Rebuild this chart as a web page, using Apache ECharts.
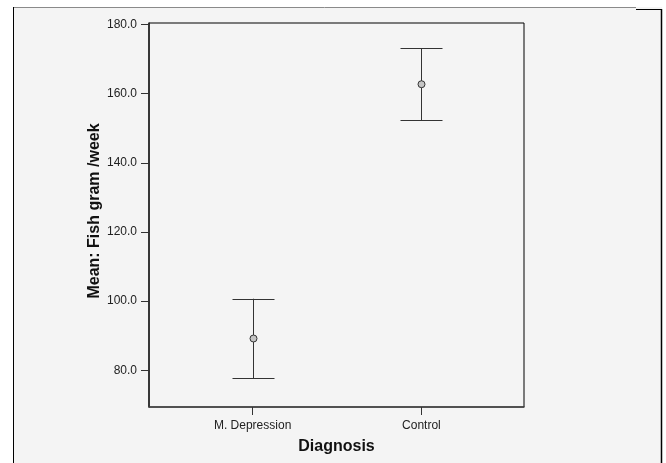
<!DOCTYPE html>
<html>
<head>
<meta charset="utf-8">
<script src="https://cdn.jsdelivr.net/npm/echarts@6/dist/echarts.min.js"></script>
<style>html,body{margin:0;padding:0;background:#fff;}#c{width:666px;height:463px;}</style>
</head>
<body>
<div id="c"></div>
<script>
var categories = ['M. Depression', 'Control'];
var means = [89.2, 162.7];
var lowers = [77.7, 152.3];
var uppers = [100.7, 173.1];
var yTicks = [80, 100, 120, 140, 160, 180];

var data = categories.map(function (c, i) { return [i, lowers[i], uppers[i], means[i]]; });

var chart = echarts.init(document.getElementById('c'), null, { renderer: 'canvas' });
var font = '"Liberation Sans", Arial, sans-serif';
chart.setOption({
  animation: false,
  backgroundColor: '#ffffff',
  graphic: [
    { type: 'rect', z: -100, shape: { x: 13, y: 7, width: 649, height: 460 }, style: { fill: '#f4f4f4' }, silent: true },
    { type: 'line', z: 100, shape: { x1: 13, y1: 7.5, x2: 636, y2: 7.5 }, style: { stroke: '#8a8a8a', lineWidth: 1 } },
    { type: 'line', z: 100, shape: { x1: 636, y1: 9.5, x2: 662, y2: 9.5 }, style: { stroke: '#000', lineWidth: 1 } },
    { type: 'line', z: 100, shape: { x1: 13.5, y1: 7, x2: 13.5, y2: 463 }, style: { stroke: '#000', lineWidth: 1 } },
    { type: 'line', z: 100, shape: { x1: 661.5, y1: 9, x2: 661.5, y2: 463 }, style: { stroke: '#000', lineWidth: 1.5 } }
  ],
  grid: {
    left: 149, top: 23, right: 142, bottom: 56,
    show: true, borderColor: '#000', borderWidth: 1, backgroundColor: '#f4f4f4'
  },
  xAxis: {
    type: 'value', min: -0.614, max: 1.608,
    splitLine: { show: false },
    axisLine: { show: true, onZero: false, lineStyle: { color: '#444', width: 1.5 } },
    axisTick: { show: true, length: 8, customValues: [0, 1], lineStyle: { color: '#333' } },
    axisLabel: {
      customValues: [0, 1], margin: 13, color: '#222', fontSize: 12, fontFamily: font,
      formatter: function (v) { return categories[Math.round(v)]; }
    },
    name: 'Diagnosis', nameLocation: 'middle', nameGap: 32, nameMoveOverlap: false,
    nameTextStyle: { fontSize: 16, fontWeight: 'bold', color: '#111', fontFamily: font }
  },
  yAxis: {
    type: 'value', min: 69.4, max: 180.4,
    splitLine: { show: false },
    axisLine: { show: true, onZero: false, lineStyle: { color: '#222', width: 1.5 } },
    axisTick: { show: true, length: 8, customValues: yTicks, lineStyle: { color: '#333' } },
    axisLabel: {
      customValues: yTicks, margin: 12, color: '#222', fontSize: 12, fontFamily: font,
      formatter: function (v) { return v.toFixed(1); }
    },
    name: 'Mean: Fish gram /week', nameLocation: 'middle', nameGap: 46, nameMoveOverlap: false,
    nameTextStyle: { fontSize: 16, fontWeight: 'bold', color: '#111', fontFamily: font, padding: [0, 0, 0, 8] }
  },
  series: [{
    type: 'custom',
    data: data,
    encode: { x: 0, y: [1, 2, 3] },
    renderItem: function (params, api) {
      var x = api.value(0);
      var lo = api.coord([x, api.value(1)]);
      var hi = api.coord([x, api.value(2)]);
      var mid = api.coord([x, api.value(3)]);
      var cx = Math.round(lo[0]) + 0.5;
      var hw = 21;
      var ls = { stroke: '#333', lineWidth: 1 };
      return {
        type: 'group',
        children: [
          { type: 'line', shape: { x1: cx, y1: hi[1], x2: cx, y2: lo[1] }, style: ls },
          { type: 'line', shape: { x1: cx - hw, y1: Math.round(hi[1]) + 0.5, x2: cx + hw, y2: Math.round(hi[1]) + 0.5 }, style: ls },
          { type: 'line', shape: { x1: cx - hw, y1: Math.round(lo[1]) + 0.5, x2: cx + hw, y2: Math.round(lo[1]) + 0.5 }, style: ls },
          { type: 'circle', shape: { cx: cx, cy: mid[1], r: 3.5 }, style: { fill: '#c4c4c4', stroke: '#333', lineWidth: 1 } }
        ]
      };
    }
  }]
});
</script>
</body>
</html>
